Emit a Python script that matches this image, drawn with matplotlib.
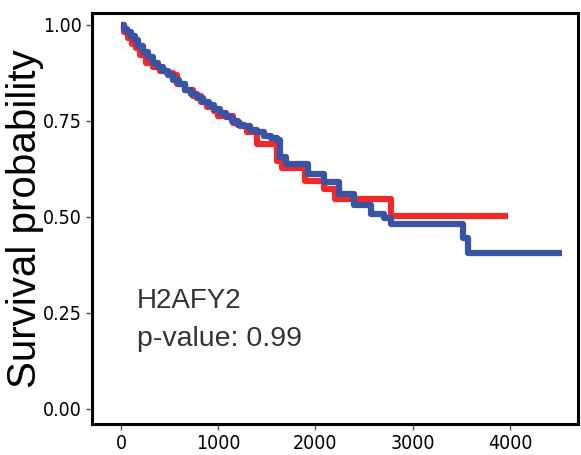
import matplotlib.pyplot as plt
import numpy as np

# KM curve, red group
red_t = [0, 30, 70, 110, 150, 200, 260, 330, 400, 470, 540, 580, 660, 740, 820, 880,
         960, 1000, 1150, 1220, 1300, 1395, 1600, 1660, 1890, 2090, 2200, 2780, 3980]
red_s = [1.0, 0.98, 0.965, 0.95, 0.94, 0.92, 0.90, 0.89, 0.88, 0.875, 0.87, 0.845, 0.83,
         0.815, 0.80, 0.785, 0.775, 0.762, 0.745, 0.735, 0.72, 0.69, 0.646, 0.628, 0.594,
         0.573, 0.547, 0.503, 0.503]

# KM curve, blue group
blue_t = [0, 30, 60, 100, 140, 180, 230, 280, 330, 380, 430, 480, 540, 600, 660, 720,
          780, 840, 900, 960, 1020, 1080, 1140, 1200, 1260, 1330, 1400, 1470, 1540, 1600,
          1640, 1700, 1920, 2090, 2240, 2400, 2570, 2700, 2780, 3520, 3570, 4530]
blue_s = [1.0, 0.99, 0.98, 0.97, 0.96, 0.945, 0.93, 0.915, 0.90, 0.89, 0.88, 0.87, 0.855,
          0.845, 0.83, 0.82, 0.81, 0.80, 0.79, 0.78, 0.77, 0.76, 0.75, 0.74, 0.735, 0.725,
          0.72, 0.71, 0.705, 0.70, 0.655, 0.638, 0.612, 0.59, 0.56, 0.53, 0.508, 0.497,
          0.482, 0.445, 0.406, 0.406]

xticks = [0, 1000, 2000, 3000, 4000]
yticks = [0.0, 0.25, 0.5, 0.75, 1.0]
gene = 'H2AFY2'
pval = 'p-value: 0.99'

fig = plt.figure(figsize=(5.81, 4.55), dpi=100)
ax = fig.add_axes([0.158, 0.068, 0.837, 0.903])

ax.step(red_t, red_s, where='post', color='#EE2A2B', lw=4.5, solid_capstyle='butt')
ax.step(blue_t, blue_s, where='post', color='#3A54A4', lw=4.5, solid_capstyle='butt')

ax.set_xlim(-300, 4700)
ax.set_ylim(-0.04, 1.03)
ax.set_xticks(xticks)
ax.set_yticks(yticks)
ax.set_yticklabels(['%.2f' % v for v in yticks])

for lab in ax.get_xticklabels() + ax.get_yticklabels():
    lab.set_family('DejaVu Sans')
    lab.set_stretch('condensed')
    lab.set_fontsize(14)
    lab.set_color('black')
ax.tick_params(length=4, width=1, color='#555555', pad=3)

for sp in ax.spines.values():
    sp.set_linewidth(2.2)
    sp.set_color('black')

ax.set_ylabel('Survival probability', fontsize=29, family=['Liberation Sans', 'DejaVu Sans'])
ax.yaxis.set_label_coords(-0.098, 0.5)

ax.text(0.093, 0.3, gene, transform=ax.transAxes, fontsize=20, color='#333333',
        family=['Liberation Sans', 'DejaVu Sans'], va='center')
ax.text(0.093, 0.207, pval, transform=ax.transAxes, fontsize=20.5, color='#333333',
        family=['Liberation Sans', 'DejaVu Sans'], va='center')

fig.savefig('out.png', dpi=100)
